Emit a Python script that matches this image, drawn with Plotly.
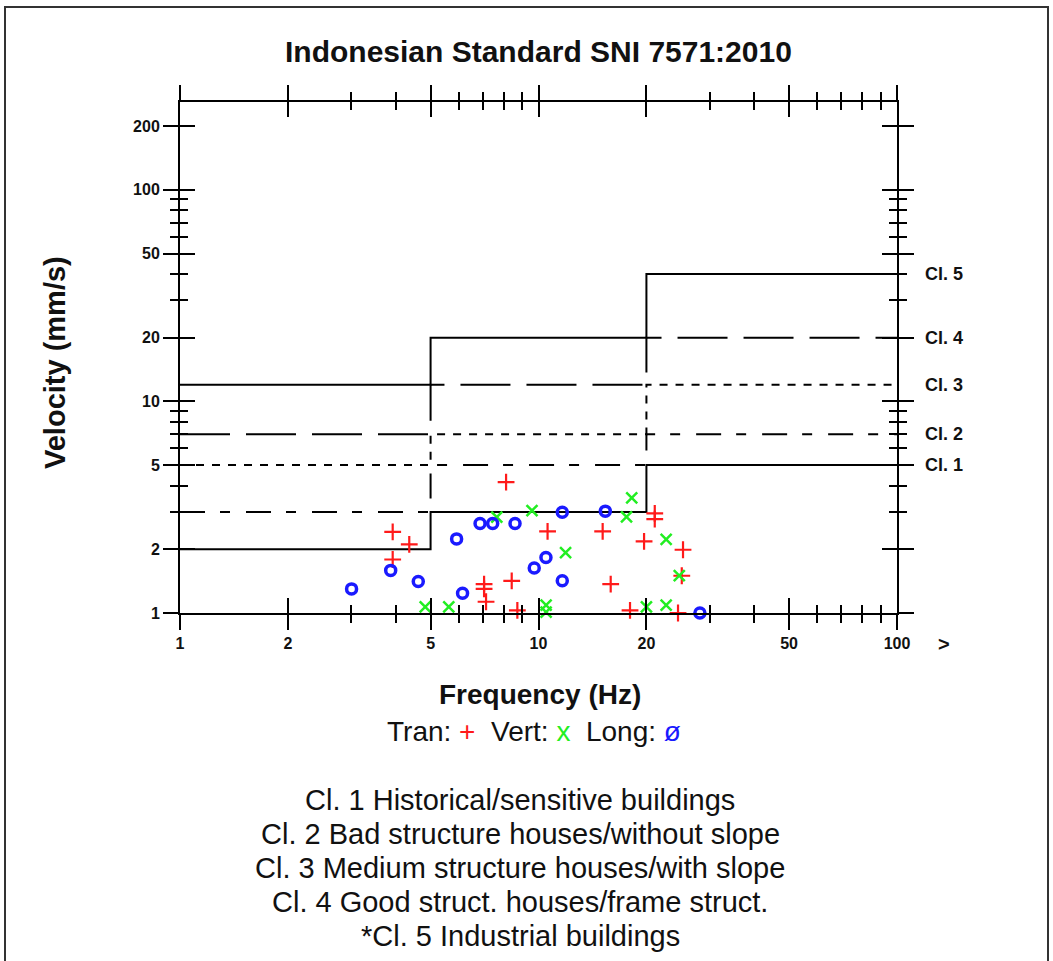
import math
import plotly.graph_objects as go

# ---------------- data ----------------
band_freq = [1, 5, 20, 100]
class_labels = ["Cl. 1", "Cl. 2", "Cl. 3", "Cl. 4", "Cl. 5"]
class_label_vel = [5, 7, 12, 20, 40]
cl1_limit = [2, 3, 5]
cl2_limit = [3, 5, 7]
cl3_limit = [5, 7, 12]
cl4_limit = [7, 12, 20]
cl5_limit = [12, 20, 40]

tran_freq = [3.92, 4.36, 3.92, 8.12, 10.6, 15.1, 21.1, 21.1, 19.7, 25.3, 25.1,
             8.42, 7.05, 7.05, 7.14, 8.73, 15.9, 18.0, 24.5]
tran_vel = [2.42, 2.11, 1.79, 4.15, 2.43, 2.43, 2.96, 2.78, 2.18, 1.99, 1.50,
            1.42, 1.37, 1.30, 1.13, 1.03, 1.37, 1.03, 1.00]
vert_freq = [4.83, 5.62, 7.65, 9.59, 11.9, 10.5, 10.5, 18.2, 17.6, 22.7, 24.7, 20.0, 22.7]
vert_vel = [1.07, 1.07, 2.84, 3.05, 1.93, 1.09, 1.01, 3.50, 2.85, 2.23, 1.50, 1.07, 1.09]
long_freq = [3.01, 3.87, 4.62, 5.91, 6.14, 6.87, 7.45, 8.60, 11.65, 15.36, 10.49, 9.73, 11.65, 28.2]
long_vel = [1.30, 1.59, 1.41, 2.24, 1.24, 2.65, 2.65, 2.65, 2.99, 3.03, 1.83, 1.63, 1.42, 1.00]

x_major = [1, 2, 5, 10, 20, 50, 100]
x_minor = [3, 4, 6, 7, 8, 9, 30, 40, 60, 70, 80, 90]
y_major = [1, 2, 5, 10, 20, 50, 100, 200]
y_minor = [3, 4, 6, 7, 8, 9, 30, 40, 60, 70, 80, 90]

title_text = "Indonesian Standard SNI 7571:2010"
x_title = "Frequency (Hz)"
y_title = "Velocity (mm/s)"
class_desc = ["Cl. 1 Historical/sensitive buildings",
              "Cl. 2 Bad structure houses/without slope",
              "Cl. 3 Medium structure houses/with slope",
              "Cl. 4 Good struct. houses/frame struct.",
              "*Cl. 5 Industrial buildings"]

# ---------------- style ----------------
FONT = "Liberation Sans, Arial, sans-serif"
W, H = 1053, 961
ML, MR, MT, MB = 180, 156, 102, 348
PW, PH = W - ML - MR, H - MT - MB
def px_x(p):
    return (p - ML) / PW
def px_y(p):
    return (H - MB - p) / PH

xr = [0, 2]
yr = [0, math.log10(260)]

fig = go.Figure()

dashes = ["solid", "25px,15px,10px,16px", "8px,8px", "50px,16px", "solid"]
for lim, dash in zip([cl1_limit, cl2_limit, cl3_limit, cl4_limit, cl5_limit], dashes):
    fig.add_trace(go.Scatter(x=band_freq, y=lim + [lim[-1]], mode="lines", line_shape="hv",
                             line=dict(color="black", width=2, dash=dash),
                             hoverinfo="skip", showlegend=False))

fig.add_trace(go.Scatter(x=tran_freq, y=tran_vel, mode="markers", name="Tran",
                         marker=dict(symbol="cross-thin", size=12, line=dict(color="#ff1a1a", width=2.2)),
                         cliponaxis=False, showlegend=False))
fig.add_trace(go.Scatter(x=vert_freq, y=vert_vel, mode="markers", name="Vert",
                         marker=dict(symbol="x-thin", size=11, line=dict(color="#22ee22", width=2.5)),
                         cliponaxis=False, showlegend=False))
fig.add_trace(go.Scatter(x=long_freq, y=long_vel, mode="markers", name="Long",
                         marker=dict(symbol="circle-open", size=10, color="#1a1aff", line=dict(color="#1a1aff", width=3.5)),
                         cliponaxis=False, showlegend=False))

# empty traces to register the tick-only overlay axes
for xa, ya in [("x2", "y2"), ("x3", "y3"), ("x4", "y4"), ("x4", "y5")]:
    fig.add_trace(go.Scatter(x=[], y=[], xaxis=xa, yaxis=ya, showlegend=False, hoverinfo="skip"))

tickfont = dict(family=FONT, size=16, color="#111", weight="bold")

def tick_axis(kind, side, direction, labels=False, line=False, overlay=None):
    major = x_major if kind == "x" else y_major
    minor = x_minor if kind == "x" else y_minor
    d = dict(type="log", range=xr if kind == "x" else yr, side=side,
             showgrid=False, zeroline=False, fixedrange=True,
             showline=line, linecolor="black", linewidth=2,
             ticks=direction, ticklen=15, tickwidth=2, tickcolor="black",
             tickmode="array", tickvals=major,
             ticktext=[str(v) for v in major] if labels else None,
             showticklabels=labels, tickfont=tickfont,
             minor=dict(tickmode="array", tickvals=minor, ticks=direction,
                        ticklen=8, tickwidth=2, tickcolor="black", showgrid=False))
    if overlay:
        d["overlaying"] = overlay
    return d

fig.update_layout(
    width=W, height=H,
    margin=dict(l=ML, r=MR, t=MT, b=MB),
    paper_bgcolor="white", plot_bgcolor="white",
    showlegend=False,
    xaxis=tick_axis("x", "bottom", "outside", labels=True, line=True),
    xaxis2=tick_axis("x", "bottom", "inside", overlay="x"),
    xaxis3=tick_axis("x", "top", "outside", line=True, overlay="x"),
    xaxis4=tick_axis("x", "top", "inside", overlay="x"),
    yaxis=tick_axis("y", "left", "outside", labels=True, line=True),
    yaxis2=tick_axis("y", "left", "inside", overlay="y"),
    yaxis3=tick_axis("y", "right", "outside", line=True, overlay="y"),
    yaxis4=tick_axis("y", "right", "inside", overlay="y"),
    yaxis5=dict(type="log", range=yr, side="right", overlaying="y", showgrid=False,
                zeroline=False, showline=False, ticks="", tickmode="array",
                tickvals=class_label_vel, ticktext=class_labels, ticklabelstandoff=27,
                tickfont=dict(family=FONT, size=18, color="#111", weight="bold"), fixedrange=True),
)
for ax in ["xaxis2", "xaxis3", "xaxis4"]:
    fig.layout[ax].anchor = "y"
for ax in ["yaxis2", "yaxis3", "yaxis4", "yaxis5"]:
    fig.layout[ax].anchor = "x"

ann = []
ann.append(dict(text="<b>" + title_text + "</b>", x=px_x(538), y=px_y(52),
                font=dict(family=FONT, size=30, color="#111")))
ann.append(dict(text="<b>" + y_title + "</b>", x=px_x(55), y=px_y(362), textangle=-90,
                font=dict(family=FONT, size=29, color="#111")))
ann.append(dict(text="<b>" + x_title + "</b>", x=px_x(540), y=px_y(695),
                font=dict(family=FONT, size=28, color="#111")))
ann.append(dict(text="<b>&gt;</b>", x=px_x(944), y=px_y(644),
                font=dict(family=FONT, size=20, color="#111")))
legend_txt = ("Tran: <span style='color:#ff1a1a'>+</span>  Vert: <span style='color:#22ee22'>x</span>"
              "  Long: <span style='color:#1a1aff'>ø</span>")
ann.append(dict(text=legend_txt, x=px_x(534), y=px_y(731),
                font=dict(family=FONT, size=28, color="#111")))
for i, line in enumerate(class_desc):
    ann.append(dict(text=line, x=px_x(520), y=px_y(800 + 34 * i),
                    font=dict(family=FONT, size=29, color="#111")))
for a in ann:
    a.update(xref="paper", yref="paper", showarrow=False, xanchor="center", yanchor="middle")
fig.update_layout(annotations=ann)

# outer frame of the picture
fig.add_shape(type="rect", xref="paper", yref="paper",
              x0=px_x(5), x1=px_x(1048), y0=px_y(990), y1=px_y(7),
              line=dict(color="#333", width=2), fillcolor="rgba(0,0,0,0)", layer="below")

fig.write_html("out.html")
